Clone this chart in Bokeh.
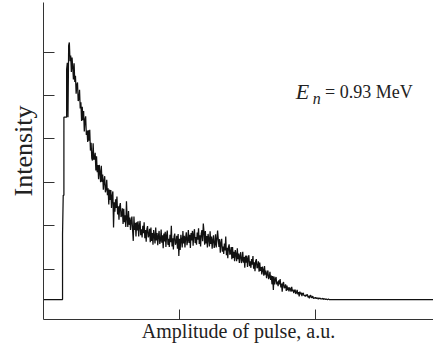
from bokeh.plotting import figure
from bokeh.models import FixedTicker, Label, Title
from bokeh.embed import file_html
from bokeh.resources import INLINE

# ---- data (channel number vs. intensity, arbitrary units) ----
rise_ch = [0, 28, 28, 29, 30, 30, 34, 34, 35, 36, 37]
rise_val = [30, 30, 180, 270, 270, 450, 450, 560, 575, 450, 615]

# noisy spectrum, one value per channel starting at channel 38
spec_start = 38
spec_val = [
    622, 579, 592, 554, 587, 565, 537, 574, 531, 545, 504, 524, 530, 487, 491, 513, 470, 484, 441, 474,
    443, 464, 417, 444, 452, 409, 419, 393, 420, 396, 421, 373, 391, 355, 350, 390, 352, 355, 368, 327,
    360, 323, 340, 307, 340, 323, 300, 338, 301, 318, 283, 303, 314, 277, 284, 306, 270, 286, 249, 283,
    259, 282, 241, 268, 279, 196, 254, 232, 261, 241, 267, 226, 245, 214, 245, 252, 220, 225, 240, 204,
    239, 208, 224, 197, 256, 216, 197, 234, 202, 219, 190, 211, 221, 190, 165, 221, 190, 207, 175, 208,
    189, 210, 175, 200, 211, 178, 192, 173, 200, 183, 208, 171, 190, 163, 192, 199, 173, 178, 193, 162,
    196, 165, 183, 156, 190, 177, 159, 196, 166, 183, 155, 176, 188, 158, 167, 191, 161, 178, 148, 182,
    164, 186, 151, 177, 189, 156, 170, 151, 179, 162, 200, 152, 171, 145, 175, 182, 156, 162, 177, 147,
    181, 130, 170, 144, 179, 167, 150, 188, 159, 177, 150, 172, 185, 155, 166, 190, 160, 179, 149, 183,
    166, 188, 154, 180, 192, 160, 174, 156, 184, 168, 194, 158, 178, 152, 182, 190, 164, 205, 186, 156,
    188, 159, 176, 150, 181, 170, 152, 187, 158, 175, 147, 167, 178, 149, 157, 180, 150, 167, 189, 169,
    151, 169, 138, 160, 170, 140, 152, 135, 159, 143, 175, 132, 149, 125, 151, 157, 133, 137, 151, 123,
    151, 126, 140, 118, 144, 134, 118, 148, 123, 136, 114, 130, 139, 114, 121, 140, 115, 128, 103, 131,
    115, 131, 105, 124, 132, 107, 118, 103, 123, 110, 130, 101, 116, 95, 118, 123, 102, 105, 118, 94,
    115, 96, 105, 88, 106, 98, 85, 107, 87, 97, 79, 90, 97, 77, 82, 94, 75, 85, 65, 84,
    52, 83, 65, 77, 82, 65, 71, 61, 74, 65, 77, 58, 67, 48, 67, 70, 56, 58, 65, 50,
    62, 52, 58, 49, 58, 54, 48, 59, 49, 53, 45, 50, 53, 43, 46, 52, 42, 47, 37, 48,
    42, 46, 38, 44, 45, 39, 40, 37, 41, 38, 42, 35, 38, 33, 39, 40, 34, 35, 38, 32,
    34, 33, 35, 32, 34, 33, 31, 34, 32, 33, 31, 32, 31, 33, 30, 32, 31, 30, 31, 30, 30, 31, 30,
]
spec_ch = list(range(spec_start, spec_start + len(spec_val)))

tail_ch = [600]
tail_val = [30]

x_ticks = [200, 400]
y_ticks = [100, 200, 300, 400, 500, 600]

chan = rise_ch + spec_ch + tail_ch
inten = rise_val + spec_val + tail_val

FONT = "Liberation Serif"
TXT = "#222222"

p = figure(width=433, height=344, output_backend="svg", toolbar_location=None,
           x_range=(0, 573.5), y_range=(-16, 714),
           min_border_left=43, min_border_right=0, min_border_top=2,
           min_border_bottom=22)
p.outline_line_color = None
p.grid.visible = False
p.background_fill_color = "white"
p.border_fill_color = "white"

p.line(chan, inten, line_color="#111111", line_width=1.25)

for ax in (p.xaxis[0], p.yaxis[0]):
    ax.axis_line_color = "#333333"
    ax.axis_line_width = 1
    ax.major_tick_line_color = "#333333"
    ax.minor_tick_line_color = None
    ax.major_tick_out = 0
    ax.major_label_standoff = 0
    ax.axis_label_text_font = FONT
    ax.axis_label_text_font_style = "normal"
    ax.axis_label_text_color = TXT

p.xaxis.ticker = FixedTicker(ticks=x_ticks)
p.yaxis.ticker = FixedTicker(ticks=y_ticks)
p.xaxis.major_label_overrides = {t: "" for t in x_ticks}
p.yaxis.major_label_overrides = {t: "" for t in y_ticks}
p.xaxis.major_tick_in = 10
p.yaxis.major_tick_in = 11

p.xaxis.axis_label = "Amplitude of pulse, a.u."
p.xaxis.axis_label_text_font_size = "20px"
p.xaxis.axis_label_standoff = 0

p.add_layout(Title(text="Intensity", align="left", offset=123, standoff=12,
                   text_font=FONT, text_font_size="26px", text_font_style="normal",
                   text_color=TXT), "left")

# annotation E_n = 0.93 MeV
p.add_layout(Label(x=371, y=508, text="E", text_font=FONT, text_font_size="22px",
                   text_font_style="italic", text_color=TXT,
                   text_baseline="alphabetic"))
p.add_layout(Label(x=396, y=492, text="n", text_font=FONT, text_font_size="16px",
                   text_font_style="italic", text_color=TXT,
                   text_baseline="alphabetic"))
p.add_layout(Label(x=414, y=508, text="= 0.93 MeV", text_font=FONT, text_font_size="18px",
                   text_color=TXT, text_baseline="alphabetic"))

open("out.html", "w").write(file_html(p, INLINE))
